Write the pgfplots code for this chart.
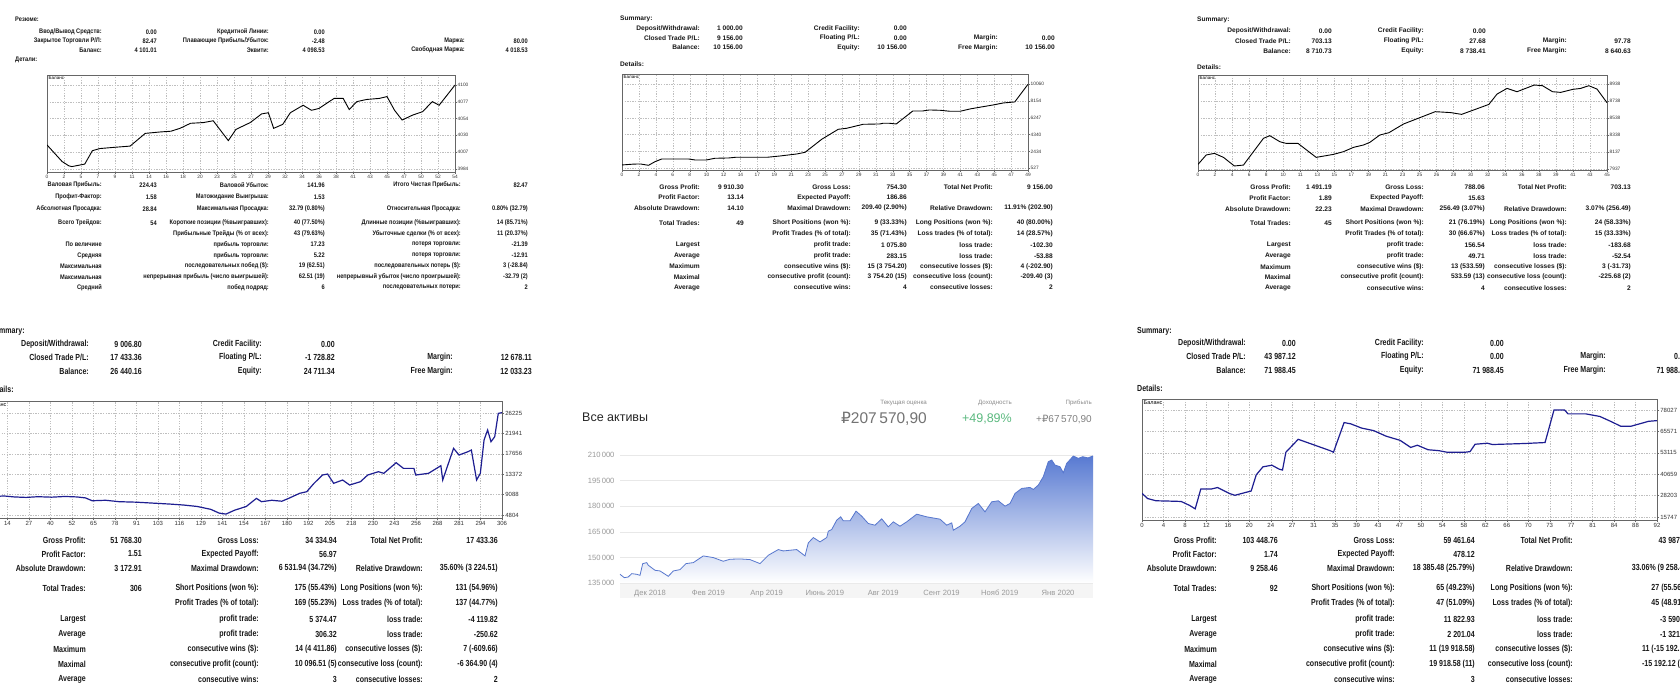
\documentclass[border=0pt]{standalone}
\usepackage{pgfplots}
\pgfplotsset{compat=1.18}
\usepackage{fontspec}
\setmainfont{Liberation Sans}
\newfontfamily\mtn[FakeStretch=0.86]{Liberation Sans}
\newfontfamily\mtb[FakeStretch=0.8]{Liberation Sans}
\newfontfamily\dejavu{DejaVu Sans}
\definecolor{mtline}{RGB}{30,30,145}
\definecolor{tkblue}{RGB}{86,118,205}
\definecolor{tkfill}{RGB}{88,122,210}
\definecolor{tkgreen}{RGB}{92,186,128}
\definecolor{txt}{RGB}{24,24,24}
\pgfplotsset{
  mt4/.style={
    scale only axis, anchor=north west,
    scaled ticks=false,
    axis line style={draw=black!60, line width=0.5pt},
    xmajorgrids, ymajorgrids,
    major grid style={draw=black!25, line width=0.3pt, dash pattern=on 1.3pt off 1.3pt},
    xtick pos=left, ytick pos=right, yticklabel pos=right,
    tick align=outside, major tick length=1.5pt,
    tick style={draw=black!60, line width=0.3pt},
    ticklabel style={font=\fontsize{4.8}{5}\selectfont, text=black!80, inner sep=1pt},
    /pgf/number format/assume math mode=true,
  },
  mt4big/.style={mt4, ticklabel style={font=\fontsize{6}{6}\selectfont, inner sep=1.2pt}, major tick length=2pt},
}
\newcommand\R[7]{%
  \node[anchor=east] at (\cA,#1) {#2};
  \node[anchor=east] at (\cB,#1) {#3};
  \node[anchor=east] at (\cC,#1) {#4};
  \node[anchor=east] at (\cD,#1) {#5};
  \node[anchor=east] at (\cE,#1) {#6};
  \node[anchor=east] at (\cF,#1) {#7};
}
\begin{document}
\begin{tikzpicture}
\path[use as bounding box] (0,0) rectangle (1680pt,-694pt);
\clip (0,0) rectangle (1680pt,-694pt);
\fill[white] (0,0) rectangle (1680pt,-694pt);

% ================= TOP LEFT (Russian) =================
\begin{scope}[x=1pt,y=-1pt,every node/.style={inner sep=0pt,text=txt},font=\mtn\bfseries\fontsize{6.6}{7}\selectfont]
\node[anchor=west] at (15,19) {Резюме:};
\def\cA{102}\def\cB{157}\def\cC{269}\def\cD{325}\def\cE{465}\def\cF{528}
\R{32}{Ввод/Вывод Средств:}{0.00}{Кредитной Линии:}{0.00}{}{}
\R{41}{Закрытое Торговли P/Л:}{82.47}{Плавающие Прибыль/Убыток:}{-2.48}{Маржа:}{80.00}
\R{50}{Баланс:}{4 101.01}{Эквити:}{4 098.53}{Свободная Маржа:}{4 018.53}
\node[anchor=west] at (15,60) {Детали:};
\def\cE{461}
\R{185}{Валовая Прибыль:}{224.43}{Валовой Убыток:}{141.96}{Итого Чистая Прибыль:}{82.47}
\R{197}{Профит-Фактор:}{1.58}{Матожидание Выигрыша:}{1.53}{}{}
\R{209}{Абсолютная Просадка:}{28.84}{Максимальная Просадка:}{32.79 (0.80\%)}{Относительная Просадка:}{0.80\% (32.79)}
\R{223}{Всего Трейдов:}{54}{Короткие позиции (\%выигравших):}{40 (77.50\%)}{Длинные позиции (\%выигравших):}{14 (85.71\%)}
\R{234}{}{}{Прибыльные Трейды (\% от всех):}{43 (79.63\%)}{Убыточные сделки (\% от всех):}{11 (20.37\%)}
\R{244.5}{По величине}{}{прибыль торговли:}{17.23}{потеря торговли:}{-21.39}
\R{255.5}{Средняя}{}{прибыль торговли:}{5.22}{потеря торговли:}{-12.91}
\R{266}{Максимальная}{}{последовательных побед (\$):}{19 (62.51)}{последовательных потерь (\$):}{3 (-28.84)}
\R{277}{Максимальная}{}{непрерывная прибыль (число выигрышей):}{62.51 (19)}{непрерывный убыток (число проигрышей):}{-32.79 (2)}
\R{287.5}{Средний}{}{побед подряд:}{6}{последовательных потери:}{2}
\end{scope}
\begin{axis}[mt4, at={(47pt,-75pt)}, width=408pt, height=97pt,
  xmin=0, xmax=54, ymin=3979.5, ymax=4113.9,
  xtick={0,2.25,...,54.01},
  xticklabels={0,2,5,7,9,11,14,16,18,20,23,25,27,29,32,34,36,38,41,43,45,47,50,52,54},
  ytick={3984,4007.2,4030.4,4053.6,4076.8,4100},
  yticklabels={3984,4007,4030,4054,4077,4100}]
\node[anchor=north west, font=\fontsize{4.5}{5}\selectfont, inner sep=1.5pt] at (rel axis cs:0,1) {Баланс};
\addplot[black, line width=0.9pt] coordinates {
(0,4017) (2,3994) (2.9,3988) (3.3,3987) (5,3990.5) (6,4009) (7,4012) (8.8,4013.6)
(11,4015.4) (13,4033) (15,4035) (16.4,4036) (17.6,4040) (19,4047) (20.7,4048)
(22,4050.5) (24,4023) (25,4038.5) (26.9,4048) (28.4,4060) (29.3,4061.6) (30,4040)
(31.2,4045.5) (32.2,4061.6) (33.9,4072) (35,4065) (36,4067.6) (38,4081.5) (39.2,4081.5)
(40,4066) (41,4077) (42.3,4080) (44,4081.5) (45,4084) (46,4065) (47,4051.5)
(48.4,4058.4) (49.7,4063) (51,4077) (51.9,4072) (54,4100)};
\end{axis}

% ================= TOP MIDDLE =================
\begin{scope}[x=1pt,y=-1pt,every node/.style={inner sep=0pt,text=txt},font=\bfseries\fontsize{6.6}{7}\selectfont]
\node[anchor=west] at (620,18.5) {Summary:};
\def\cA{700}\def\cB{743}\def\cC{860}\def\cD{907}\def\cE{998}\def\cF{1055}
\R{28.5}{Deposit/Withdrawal:}{1 000.00}{Credit Facility:}{0.00}{}{}
\R{38}{Closed Trade P/L:}{9 156.00}{Floating P/L:}{0.00}{Margin:}{0.00}
\R{47.5}{Balance:}{10 156.00}{Equity:}{10 156.00}{Free Margin:}{10 156.00}
\node[anchor=west] at (620,64) {Details:};
\def\cA{700}\def\cB{744}\def\cC{851}\def\cD{907}\def\cE{993}\def\cF{1053}
\R{187}{Gross Profit:}{9 910.30}{Gross Loss:}{754.30}{Total Net Profit:}{9 156.00}
\R{197.5}{Profit Factor:}{13.14}{Expected Payoff:}{186.86}{}{}
\R{208}{Absolute Drawdown:}{14.10}{Maximal Drawdown:}{209.40 (2.90\%)}{Relative Drawdown:}{11.91\% (202.90)}
\R{223}{Total Trades:}{49}{Short Positions (won \%):}{9 (33.33\%)}{Long Positions (won \%):}{40 (80.00\%)}
\R{234}{}{}{Profit Trades (\% of total):}{35 (71.43\%)}{Loss trades (\% of total):}{14 (28.57\%)}
\R{245}{Largest}{}{profit trade:}{1 075.80}{loss trade:}{-102.30}
\R{256}{Average}{}{profit trade:}{283.15}{loss trade:}{-53.88}
\R{266.5}{Maximum}{}{consecutive wins (\$):}{15 (3 754.20)}{consecutive losses (\$):}{4 (-202.90)}
\R{277}{Maximal}{}{consecutive profit (count):}{3 754.20 (15)}{consecutive loss (count):}{-209.40 (3)}
\R{287.5}{Average}{}{consecutive wins:}{4}{consecutive losses:}{2}
\end{scope}
\begin{axis}[mt4, at={(622pt,-74pt)}, width=406pt, height=96pt,
  xmin=0, xmax=49, ymin=333, ymax=11191,
  xtick={0,2.041667,...,49.01},
  xticklabels={0,2,4,6,8,10,12,14,17,19,21,23,25,27,29,31,33,35,37,39,41,43,45,47,49},
  ytick={527,2433.6,4340.2,6246.8,8153.4,10060},
  yticklabels={527,2434,4340,6247,8154,10060}]
\node[anchor=north west, font=\fontsize{4.5}{5}\selectfont, inner sep=1.5pt] at (rel axis cs:0,1) {Баланс};
\addplot[black, line width=0.9pt] coordinates {
(0,904) (1.4,1000) (2.2,1017) (3.2,866) (4,1281) (4.8,1583) (8,1583) (8.8,1470)
(10.2,1470) (11.2,1658) (12.9,1696) (13.7,1771) (17.5,1771) (19.1,1922) (21.1,2148)
(22.1,2337) (24.1,3807) (26.1,4938) (27.1,5051) (29.1,5503) (31.1,5541) (31.5,5617)
(32.3,5617) (33.1,5541) (35.1,7011) (36.3,7011) (37.1,7124) (38.4,7087) (39.6,6974)
(40.8,6974) (42,7237) (43.6,7501) (44.8,7690) (46,7916) (47.4,8029) (49,10027)};
\end{axis}

% ================= TOP RIGHT =================
\begin{scope}[x=1pt,y=-1pt,every node/.style={inner sep=0pt,text=txt},font=\bfseries\fontsize{6.6}{7}\selectfont]
\node[anchor=west] at (1197,20) {Summary:};
\def\cA{1291}\def\cB{1332}\def\cC{1424}\def\cD{1486}\def\cE{1567}\def\cF{1631}
\R{31}{Deposit/Withdrawal:}{0.00}{Credit Facility:}{0.00}{}{}
\R{41}{Closed Trade P/L:}{703.13}{Floating P/L:}{27.68}{Margin:}{97.78}
\R{51}{Balance:}{8 710.73}{Equity:}{8 738.41}{Free Margin:}{8 640.63}
\node[anchor=west] at (1197,67) {Details:};
\def\cD{1485}
\R{187}{Gross Profit:}{1 491.19}{Gross Loss:}{788.06}{Total Net Profit:}{703.13}
\R{198}{Profit Factor:}{1.89}{Expected Payoff:}{15.63}{}{}
\R{209}{Absolute Drawdown:}{22.23}{Maximal Drawdown:}{256.49 (3.07\%)}{Relative Drawdown:}{3.07\% (256.49)}
\R{223}{Total Trades:}{45}{Short Positions (won \%):}{21 (76.19\%)}{Long Positions (won \%):}{24 (58.33\%)}
\R{234}{}{}{Profit Trades (\% of total):}{30 (66.67\%)}{Loss trades (\% of total):}{15 (33.33\%)}
\R{245}{Largest}{}{profit trade:}{156.54}{loss trade:}{-183.68}
\R{256}{Average}{}{profit trade:}{49.71}{loss trade:}{-52.54}
\R{267}{Maximum}{}{consecutive wins (\$):}{13 (533.59)}{consecutive losses (\$):}{3 (-31.73)}
\R{277}{Maximal}{}{consecutive profit (count):}{533.59 (13)}{consecutive loss (count):}{-225.68 (2)}
\R{288}{Average}{}{consecutive wins:}{4}{consecutive losses:}{2}
\end{scope}
\begin{axis}[mt4, at={(1198pt,-75pt)}, width=409pt, height=95pt,
  xmin=0, xmax=45, ymin=7921.5, ymax=9044.4,
  xtick={0,1.875,...,45.01},
  xticklabels={0,2,4,6,8,10,11,13,15,17,19,21,23,25,26,28,30,32,34,36,38,39,41,43,45},
  ytick={7937,8137.2,8337.4,8537.6,8737.8,8938},
  yticklabels={7937,8137,8338,8538,8738,8938}]
\node[anchor=north west, font=\fontsize{4.5}{5}\selectfont, inner sep=1.5pt] at (rel axis cs:0,1) {Баланс};
\addplot[black, line width=0.9pt] coordinates {
(0,7988) (0.9,8099) (1.8,8118) (2.8,8071) (4,7969) (5,7980) (7.2,8296) (7.9,8327)
(9,8256) (9.7,8236) (11,8236) (13,8071) (14.9,8106) (16,8138) (17.1,8189) (18.2,8217)
(18.9,8248) (20,8335) (21,8362) (22.6,8465) (24.4,8540) (26.1,8611) (27.8,8600)
(29,8579) (30.3,8630) (32,8697) (32.9,8819) (34,8886) (35.1,8847) (37,8926)
(37.9,8918) (39,8847) (39.9,8839) (41.2,8874) (42.1,8886) (43,8918) (43.9,8878) (45,8717)};
\end{axis}

% ================= BOTTOM LEFT =================
\begin{scope}[x=1pt,y=-1pt,every node/.style={inner sep=0pt,text=txt},font=\mtb\bfseries\fontsize{8.8}{10}\selectfont]
\node[anchor=west] at (-10,331) {Summary:};
\def\cA{89}\def\cB{142}\def\cC{262}\def\cD{335}\def\cE{453}\def\cF{532}
\R{344}{Deposit/Withdrawal:}{9 006.80}{Credit Facility:}{0.00}{}{}
\R{357.5}{Closed Trade P/L:}{17 433.36}{Floating P/L:}{-1 728.82}{Margin:}{12 678.11}
\R{371}{Balance:}{26 440.16}{Equity:}{24 711.34}{Free Margin:}{12 033.23}
\node[anchor=west] at (-12,389) {Details:};
\def\cA{86}\def\cB{142}\def\cC{259}\def\cD{337}\def\cE{423}\def\cF{498}
\R{540}{Gross Profit:}{51 768.30}{Gross Loss:}{34 334.94}{Total Net Profit:}{17 433.36}
\R{554}{Profit Factor:}{1.51}{Expected Payoff:}{56.97}{}{}
\R{568}{Absolute Drawdown:}{3 172.91}{Maximal Drawdown:}{6 531.94 (34.72\%)}{Relative Drawdown:}{35.60\% (3 224.51)}
\R{588}{Total Trades:}{306}{Short Positions (won \%):}{175 (55.43\%)}{Long Positions (won \%):}{131 (54.96\%)}
\R{603}{}{}{Profit Trades (\% of total):}{169 (55.23\%)}{Loss trades (\% of total):}{137 (44.77\%)}
\R{619}{Largest}{}{profit trade:}{5 374.47}{loss trade:}{-4 119.82}
\R{634}{Average}{}{profit trade:}{306.32}{loss trade:}{-250.62}
\R{649}{Maximum}{}{consecutive wins (\$):}{14 (4 411.86)}{consecutive losses (\$):}{7 (-609.66)}
\R{664}{Maximal}{}{consecutive profit (count):}{10 096.51 (5)}{consecutive loss (count):}{-6 364.90 (4)}
\R{679}{Average}{}{consecutive wins:}{3}{consecutive losses:}{2}
\end{scope}
\begin{axis}[mt4big, at={(-14pt,-401pt)}, width=516pt, height=117pt,
  xmin=1.3, xmax=306, ymin=4175, ymax=28745,
  xtick={1.3,13.99583,...,306.05},
  xticklabels={1,14,27,40,52,65,78,91,103,116,129,141,154,167,180,192,205,218,230,243,256,268,281,294,306},
  ytick={4804,9088.2,13372.4,17656.6,21940.8,26225},
  yticklabels={4804,9088,13372,17656,21941,26225}]
\node[anchor=north west, font=\fontsize{5.5}{6}\selectfont, inner sep=1.5pt] at (rel axis cs:0,1) {Баланс};
\addplot[mtline, line width=1.2pt] coordinates {
(1,8900) (6,8700) (12,8800) (18,8600) (25,8500) (32,8650) (40,8550) (48,8700) (55,8600)
(60,8400) (64,7800) (72,7900) (80,7600) (90,7500) (100,7300) (110,7100) (118,6900)
(126,6600) (134,6000) (139,5200) (143,5000) (148,5800) (155,6600) (161,8300) (164,7600)
(170,7900) (176,7700) (180,8300) (186.5,9360) (190.7,9700) (195,11460) (200,13200)
(203,13415) (206.6,11460) (211.9,12155) (216,11105) (222.4,11800) (226.7,13200)
(233,13900) (236.2,13560) (243.5,15790) (247.8,14600) (254,14600) (255,13200)
(262.6,13560) (269.9,15160) (271,12155) (277.4,18810) (280.6,17400) (285.9,18100)
(287.9,18450) (291,12155) (293.2,13560) (295.4,20555) (297.5,22650) (299.5,20200)
(301.7,21250) (303.8,26150) (306,26300)};
\end{axis}

% ================= BOTTOM MIDDLE (Tinkoff) =================
\fill[black!4] (620pt,-583pt) rectangle (1093pt,-598pt);
\begin{scope}[x=1pt,y=-1pt,every node/.style={inner sep=0pt}]
\node[anchor=west, font=\fontsize{12.5}{13}\selectfont, text=black!85] at (582,417) {Все активы};
\node[anchor=east, font=\fontsize{6.2}{7}\selectfont, text=black!45] at (927,403) {Текущая оценка};
\node[anchor=east, font=\fontsize{15.5}{16}\selectfont, text=black!55] at (927,418.5) {{\dejavu ₽}207\,570,90};
\node[anchor=east, font=\fontsize{6.2}{7}\selectfont, text=black!45] at (1012,403) {Доходность};
\node[anchor=east, font=\fontsize{12.5}{13}\selectfont, text=tkgreen] at (1012,418.5) {+49,89\%};
\node[anchor=east, font=\fontsize{6.2}{7}\selectfont, text=black!45] at (1092,403) {Прибыль};
\node[anchor=east, font=\fontsize{10}{11}\selectfont, text=black!50] at (1092,419) {+{\dejavu ₽}67\,570,90};
\end{scope}
\begin{axis}[scale only axis, anchor=north west, at={(620pt,-451.6pt)}, width=473pt, height=131.4pt,
  scaled ticks=false,
  xmin=0, xmax=473, ymin=135000, ymax=212000,
  axis line style={draw=none},
  ytick={135000,150000,165000,180000,195000,210000},
  yticklabels={135\,000,150\,000,165\,000,180\,000,195\,000,210\,000},
  ymajorgrids, major grid style={draw=black!9, line width=0.6pt},
  xtick={30,88.3,146.6,204.9,263.2,321.5,379.8,438.1},
  xticklabels={Дек 2018,Фев 2019,Апр 2019,Июнь 2019,Авг 2019,Сент 2019,Нояб 2019,Янв 2020},
  major tick length=0pt,
  ticklabel style={font=\fontsize{7.6}{8}\selectfont, text=black!40},
  yticklabel style={xshift=-2pt},
  xticklabel style={yshift=-1pt, text height=1.6ex, text depth=0.3ex},
  clip=false]
\addplot[draw=none, top color=tkfill, middle color=tkfill!28!white, bottom color=white] coordinates {
(0,135000) (0,140100) (4.3,138140) (8.3,138530) (11.7,140490) (16.7,140100) (20,139500)
(22.7,146360) (26.7,146950) (28.3,145400) (35,142450) (40,142060) (48.3,138920)
(53.3,142060) (60,142840) (66,146360) (73.3,146950) (83.3,150870) (93.3,149890)
(103.3,147740) (110,148920) (120,149110) (130,148720) (140,146360) (148.3,151260)
(158.3,154590) (163.3,153800) (176.7,154590) (185,150870) (188.3,158500) (193.3,161640)
(200,159090) (206.7,161640) (208.3,165360) (211.7,166340) (216.7,171820) (220.7,173780)
(223.3,171430) (230,171430) (236,177110) (241.7,174170) (248.3,169860) (255,168880)
(261.7,172600) (268.3,167900) (273.3,170840) (280,168290) (286.7,170840) (296.7,175340)
(306.7,173780) (320,172410) (326.7,168880) (331.7,170250) (333.3,165940) (340,168290)
(345,170840) (351.7,178670) (358.3,181610) (365,176710) (371.7,182590) (378.3,183180)
(385,180040) (390,181610) (395,187480) (401.7,190420) (410,191010) (413.3,189840)
(418.3,192380) (423.3,197270) (428.3,206080) (431.7,207060) (435,204130) (440,203150)
(443.3,199620) (446.7,205100) (453.3,209410) (458.3,208040) (462.7,209020) (468,208300)
(473,209500) (473,135000)};
\addplot[tkblue, line width=0.8pt] coordinates {
(0,140100) (4.3,138140) (8.3,138530) (11.7,140490) (16.7,140100) (20,139500)
(22.7,146360) (26.7,146950) (28.3,145400) (35,142450) (40,142060) (48.3,138920)
(53.3,142060) (60,142840) (66,146360) (73.3,146950) (83.3,150870) (93.3,149890)
(103.3,147740) (110,148920) (120,149110) (130,148720) (140,146360) (148.3,151260)
(158.3,154590) (163.3,153800) (176.7,154590) (185,150870) (188.3,158500) (193.3,161640)
(200,159090) (206.7,161640) (208.3,165360) (211.7,166340) (216.7,171820) (220.7,173780)
(223.3,171430) (230,171430) (236,177110) (241.7,174170) (248.3,169860) (255,168880)
(261.7,172600) (268.3,167900) (273.3,170840) (280,168290) (286.7,170840) (296.7,175340)
(306.7,173780) (320,172410) (326.7,168880) (331.7,170250) (333.3,165940) (340,168290)
(345,170840) (351.7,178670) (358.3,181610) (365,176710) (371.7,182590) (378.3,183180)
(385,180040) (390,181610) (395,187480) (401.7,190420) (410,191010) (413.3,189840)
(418.3,192380) (423.3,197270) (428.3,206080) (431.7,207060) (435,204130) (440,203150)
(443.3,199620) (446.7,205100) (453.3,209410) (458.3,208040) (462.7,209020) (468,208300)
(473,209500)};
\end{axis}

% ================= BOTTOM RIGHT =================
\begin{scope}[x=1pt,y=-1pt,every node/.style={inner sep=0pt,text=txt},font=\mtb\bfseries\fontsize{8.8}{10}\selectfont]
\node[anchor=west] at (1137,331) {Summary:};
\def\cA{1246}\def\cB{1296}\def\cC{1424}\def\cD{1504}\def\cE{1606}\def\cF{1688}
\R{343}{Deposit/Withdrawal:}{0.00}{Credit Facility:}{0.00}{}{}
\R{356.5}{Closed Trade P/L:}{43 987.12}{Floating P/L:}{0.00}{Margin:}{0.00}
\R{370}{Balance:}{71 988.45}{Equity:}{71 988.45}{Free Margin:}{71 988.45}
\node[anchor=west] at (1137,388) {Details:};
\def\cA{1217}\def\cB{1278}\def\cC{1395}\def\cD{1475}\def\cE{1573}\def\cF{1690}
\R{540}{Gross Profit:}{103 448.76}{Gross Loss:}{59 461.64}{Total Net Profit:}{43 987.12}
\R{554}{Profit Factor:}{1.74}{Expected Payoff:}{478.12}{}{}
\R{568}{Absolute Drawdown:}{9 258.46}{Maximal Drawdown:}{18 385.48 (25.79\%)}{Relative Drawdown:}{33.06\% (9 258.46)}
\R{588}{Total Trades:}{92}{Short Positions (won \%):}{65 (49.23\%)}{Long Positions (won \%):}{27 (55.56\%)}
\R{603}{}{}{Profit Trades (\% of total):}{47 (51.09\%)}{Loss trades (\% of total):}{45 (48.91\%)}
\R{619}{Largest}{}{profit trade:}{11 822.93}{loss trade:}{-3 590.56}
\R{634}{Average}{}{profit trade:}{2 201.04}{loss trade:}{-1 321.35}
\R{649}{Maximum}{}{consecutive wins (\$):}{11 (19 918.58)}{consecutive losses (\$):}{11 (-15 192.12)}
\R{664}{Maximal}{}{consecutive profit (count):}{19 918.58 (11)}{consecutive loss (count):}{-15 192.12 (11)}
\R{679}{Average}{}{consecutive wins:}{3}{consecutive losses:}{4}
\end{scope}
\begin{axis}[mt4big, at={(1142pt,-399pt)}, width=515pt, height=121pt,
  xmin=0, xmax=92, ymin=14007, ymax=84430,
  xtick={0,3.833333,...,92.01},
  xticklabels={0,4,8,12,16,20,24,27,31,35,39,43,47,50,54,58,62,66,70,73,77,81,84,88,92},
  ytick={15747,28203,40659,53115,65571,78027},
  yticklabels={15747,28203,40659,53115,65571,78027}]
\node[anchor=north west, font=\fontsize{5.5}{6}\selectfont, inner sep=1.5pt] at (rel axis cs:0,1) {Баланс};
\addplot[mtline, line width=1.2pt] coordinates {
(0,29500) (1,26500) (2.5,25200) (5,25000) (7,24800) (8.5,22500) (9.5,20500) (10.5,32000)
(12.3,32000) (13.5,32900) (15.7,29330) (16.6,28400) (18.8,30300) (19.5,30850) (20.4,40250)
(21.6,44950) (23.2,45900) (24.5,43600) (25.1,43100) (25.7,53450) (27.9,60980) (33.6,54380)
(34.2,53450) (36.1,70720) (37.3,69970) (39.2,67530) (41.4,66020) (43.6,62800) (46.1,60380)
(48,56240) (49.2,57530) (51.1,54900) (53,54380) (54.5,53450) (57.7,53450) (58.6,53800)
(59.5,58100) (61.7,58700) (62.6,57940) (68.3,58530) (72,59090) (73.6,78027) (75.5,78027)
(76.1,75770) (79.3,75770) (81.8,74270) (83.7,71450) (85.5,68630) (87.4,68630) (90.5,71450)
(92,71850)};
\end{axis}
\end{tikzpicture}
\end{document}
